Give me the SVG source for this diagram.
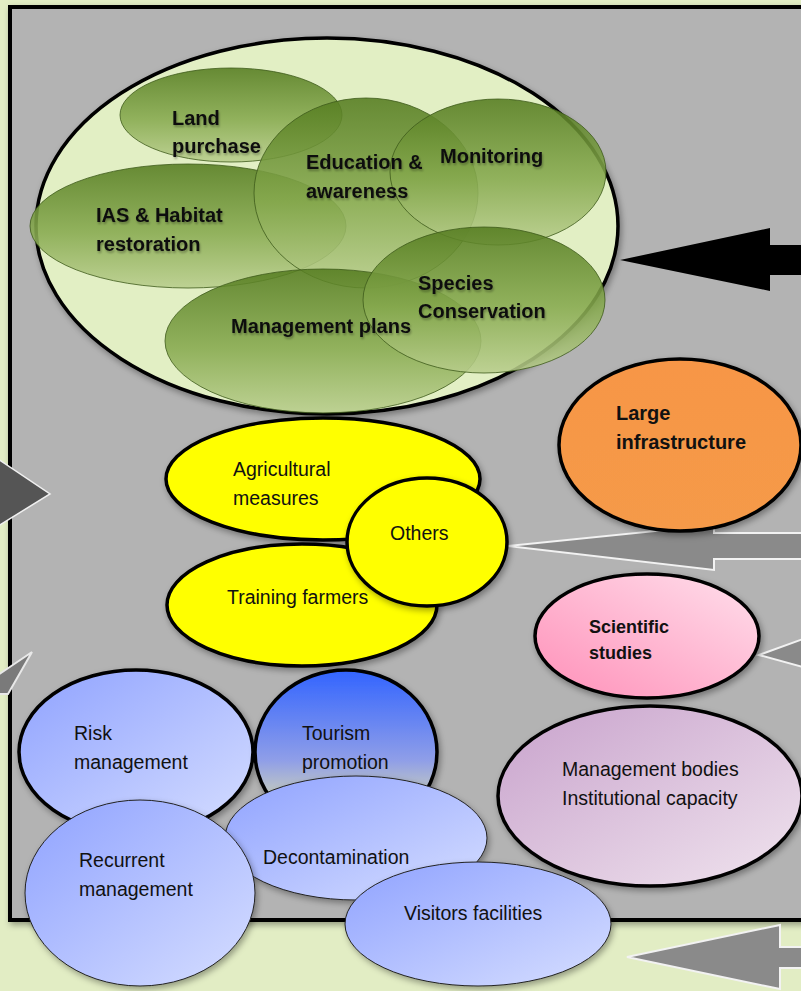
<svg xmlns="http://www.w3.org/2000/svg" width="801" height="991" viewBox="0 0 801 991">
<defs>
<linearGradient id="gGreen" x1="0" y1="0" x2="0" y2="1">
<stop offset="0" stop-color="#557c20"/>
<stop offset="0.55" stop-color="#86a94e"/>
<stop offset="1" stop-color="#b8cd8c"/>
</linearGradient>
<linearGradient id="gBlue" x1="0" y1="0" x2="1" y2="1">
<stop offset="0" stop-color="#8fa2ff"/>
<stop offset="1" stop-color="#d6deff"/>
</linearGradient>
<linearGradient id="gTour" x1="0" y1="0" x2="0" y2="1">
<stop offset="0" stop-color="#3264ff"/>
<stop offset="0.55" stop-color="#8f9ee8"/>
<stop offset="0.85" stop-color="#d8dcb0"/>
<stop offset="1" stop-color="#f0eca0"/>
</linearGradient>
<linearGradient id="gPink" x1="0" y1="1" x2="1" y2="0">
<stop offset="0" stop-color="#ff8fb8"/>
<stop offset="1" stop-color="#ffe0ec"/>
</linearGradient>
<linearGradient id="gLav" x1="0" y1="0" x2="1" y2="1">
<stop offset="0" stop-color="#c8a2cc"/>
<stop offset="1" stop-color="#f0e4ee"/>
</linearGradient>
<linearGradient id="gOrange" x1="0" y1="0" x2="0" y2="1">
<stop offset="0" stop-color="#f79646"/>
<stop offset="1" stop-color="#f59a48"/>
</linearGradient>
<filter id="sh" x="-10%" y="-10%" width="125%" height="130%">
<feDropShadow dx="2" dy="3" stdDeviation="3" flood-color="#000" flood-opacity="0.35"/>
</filter>
<filter id="tsh" x="-5%" y="-20%" width="110%" height="150%">
<feDropShadow dx="1" dy="2" stdDeviation="1.2" flood-color="#000" flood-opacity="0.3"/>
</filter>
</defs>
<style>
.g { fill: url(#gGreen); fill-opacity: 0.88; stroke: #3d5a1a; stroke-width: 0.8; }
.tb { font-family: "Liberation Sans", Arial, sans-serif; font-weight: bold; font-size: 20px; fill: #111; }
.tr { font-family: "Liberation Sans", Arial, sans-serif; font-size: 19.5px; fill: #111; }
.thick { stroke: #000; stroke-width: 3.5; }
.thin { stroke: #222; stroke-width: 1; }
.arrowG { fill: #8a8a8a; stroke: #f2f2f2; stroke-width: 2; stroke-linejoin: miter; }
</style>
<rect x="0" y="0" width="801" height="991" fill="#e2edc4"/>
<rect x="10" y="7" width="800" height="913" fill="#b3b3b3" stroke="#000" stroke-width="4" filter="url(#sh)"/>

<g id="connectors">
<polygon points="620,260 770,228 770,245 801,245 801,275 770,275 770,291" fill="#000"/>
<polygon class="arrowG" points="507,546 714,525 714,533 803,533 803,559 714,559 714,570"/>
<polygon class="arrowG" points="759,655 803,639 803,667"/>
<polygon class="arrowG" points="627,957 780,925 780,947 803,947 803,968 780,968 780,989"/>
<polygon points="-2,459 50,494 -2,526" fill="#555" stroke="#f0f0f0" stroke-width="1.5"/>
<polygon points="-2,675 32,652 8,694 -2,694" fill="#7a7a7a" stroke="#e8e8e8" stroke-width="2"/>
</g>

<g id="group-top">
<ellipse cx="327" cy="226" rx="291" ry="188" fill="#e2efc4" class="thick" filter="url(#sh)"/>
</g>
<g id="land-purchase">
<ellipse class="g" cx="231" cy="115" rx="111" ry="47"/>
<text class="tb" filter="url(#tsh)"><tspan x="172" y="125">Land</tspan><tspan x="172" y="153">purchase</tspan></text>
</g>
<g id="ias-habitat">
<ellipse class="g" cx="188" cy="226" rx="158" ry="62"/>
</g>
<g id="education">
<ellipse class="g" cx="366" cy="193" rx="112" ry="95"/>
</g>
<g id="monitoring">
<ellipse class="g" cx="498" cy="172" rx="108" ry="73"/>
</g>
<g id="management-plans">
<ellipse class="g" cx="323" cy="341" rx="158" ry="72"/>
</g>
<g id="species-conservation">
<ellipse class="g" cx="484" cy="300" rx="121" ry="73"/>
</g>
<g id="green-labels">
<text class="tb" filter="url(#tsh)"><tspan x="96" y="222">IAS &amp; Habitat</tspan><tspan x="96" y="251">restoration</tspan></text>
<text class="tb" filter="url(#tsh)"><tspan x="306" y="169">Education &amp;</tspan><tspan x="306" y="198">awareness</tspan></text>
<text class="tb" filter="url(#tsh)" x="440" y="163">Monitoring</text>
<text class="tb" filter="url(#tsh)" x="231" y="333">Management plans</text>
<text class="tb" filter="url(#tsh)"><tspan x="418" y="290">Species</tspan><tspan x="418" y="318">Conservation</tspan></text>
</g>

<g id="large-infrastructure">
<ellipse cx="680" cy="445" rx="121" ry="86" fill="url(#gOrange)" class="thick" filter="url(#sh)"/>
<text class="tb"><tspan x="616" y="420">Large</tspan><tspan x="616" y="449">infrastructure</tspan></text>
</g>

<g id="agricultural-measures">
<ellipse cx="323" cy="479" rx="157" ry="61" fill="#ffff00" class="thick" filter="url(#sh)"/>
<text class="tr"><tspan x="233" y="476">Agricultural</tspan><tspan x="233" y="505">measures</tspan></text>
</g>
<g id="training-farmers">
<ellipse cx="302" cy="605" rx="135" ry="61" fill="#ffff00" class="thick" filter="url(#sh)"/>
<text class="tr" x="227" y="604">Training farmers</text>
</g>
<g id="others">
<ellipse cx="427" cy="542" rx="80" ry="64" fill="#ffff00" class="thick" filter="url(#sh)"/>
<text class="tr" x="390" y="540">Others</text>
</g>

<g id="scientific-studies">
<ellipse cx="647" cy="636" rx="112" ry="62" fill="url(#gPink)" class="thick" filter="url(#sh)"/>
<text class="tb" style="font-size:18px"><tspan x="589" y="633">Scientific</tspan><tspan x="589" y="659">studies</tspan></text>
</g>

<g id="management-bodies">
<ellipse cx="650" cy="796" rx="152" ry="90" fill="url(#gLav)" class="thick" filter="url(#sh)"/>
<text class="tr"><tspan x="562" y="776">Management bodies</tspan><tspan x="562" y="805">Institutional capacity</tspan></text>
</g>

<g id="risk-management">
<ellipse cx="136" cy="752" rx="117" ry="82" fill="url(#gBlue)" class="thick" filter="url(#sh)"/>
<text class="tr"><tspan x="74" y="740">Risk</tspan><tspan x="74" y="769">management</tspan></text>
</g>
<g id="tourism-promotion">
<ellipse cx="346" cy="752" rx="91" ry="82" fill="url(#gTour)" class="thick" filter="url(#sh)"/>
<text class="tr"><tspan x="302" y="740">Tourism</tspan><tspan x="302" y="769">promotion</tspan></text>
</g>
<g id="decontamination">
<ellipse cx="356" cy="838" rx="131" ry="62" fill="url(#gBlue)" class="thin" filter="url(#sh)"/>
<text class="tr" x="263" y="864">Decontamination</text>
</g>
<g id="recurrent-management">
<ellipse cx="140" cy="893" rx="115" ry="93" fill="url(#gBlue)" class="thin" filter="url(#sh)"/>
<text class="tr"><tspan x="79" y="867">Recurrent</tspan><tspan x="79" y="896">management</tspan></text>
</g>
<g id="visitors-facilities">
<ellipse cx="478" cy="924" rx="133" ry="62" fill="url(#gBlue)" class="thin" filter="url(#sh)"/>
<text class="tr" x="404" y="920">Visitors facilities</text>
</g>
</svg>
